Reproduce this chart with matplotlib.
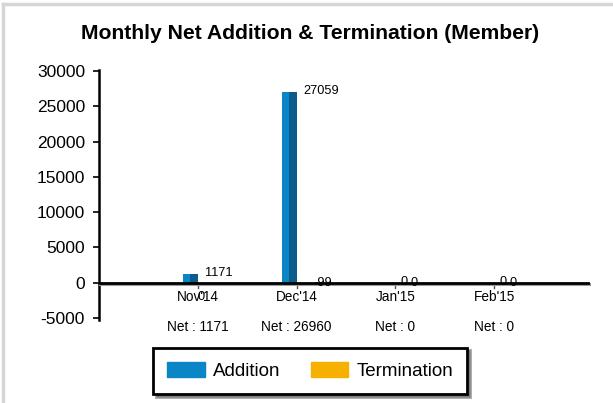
import matplotlib.pyplot as plt
import matplotlib.transforms as mtransforms
from matplotlib.patches import Rectangle
from matplotlib.lines import Line2D

plt.rcParams['font.family'] = ['Liberation Sans', 'DejaVu Sans']
plt.rcParams['axes.unicode_minus'] = False

months = ["Nov'14", "Dec'14", "Jan'15", "Feb'15"]
addition = [1171, 27059, 0, 0]
termination = [0, -99, 0, 0]
net = [1171, 26960, 0, 0]

add_light = '#0a86c6'
add_dark = '#0b5c8c'
term_color = '#f5b000'

fig = plt.figure(figsize=(6.13, 4.03), dpi=100)
# light gray frame on top and left
fig.add_artist(Line2D([0.005, 0.005], [0, 0.99], color='#d6d6d6', lw=2.5))
fig.add_artist(Line2D([0.005, 1], [0.99, 0.99], color='#d6d6d6', lw=2.5))

ax = fig.add_axes([0.1615, 0.206, 0.806, 0.6203])
ax.set_xlim(-1, 4)
ax.set_ylim(-5300, 30150)

w = 0.15
for i, v in enumerate(addition):
    # two-tone bar (light left half, dark right half)
    ax.bar(i - w * 0.75, v, width=w / 2, color=add_light, zorder=3)
    ax.bar(i - w * 0.25, v, width=w / 2, color=add_dark, zorder=3)
for i, v in enumerate(termination):
    ax.bar(i + w / 2, v, width=w, color=term_color, zorder=3)

# zero line with shadow
shadow = ax.transData + mtransforms.ScaledTranslation(1 / 100, -1.5 / 100, fig.dpi_scale_trans)
ax.plot([-1, 3.95], [0, 0], color='#9a9a9a', lw=2.2, zorder=3, transform=shadow)
ax.plot([-1, 3.95], [0, 0], color='black', lw=2, zorder=4)

for i, m in enumerate(months):
    ax.plot([i, i], [0, -800], color='#555555', lw=1, zorder=2)
    ax.annotate(m, (i, 0), xytext=(0, -14), textcoords='offset pixels',
                ha='center', va='center', fontsize=9.8)
    ax.annotate('Net : %d' % net[i], (i, 0), xytext=(0, -44),
                textcoords='offset pixels', ha='center', va='center',
                fontsize=9.8, annotation_clip=False)
    ax.annotate(str(addition[i]), (i, addition[i]), xytext=(7 if addition[i] else 5, 1),
                textcoords='offset pixels', ha='left', va='center', fontsize=9.2)
    if i == 0:
        ax.annotate(str(termination[i]), (i, 0), xytext=(3, -14),
                    textcoords='offset pixels', ha='center', va='center', fontsize=9.2)
    else:
        ax.annotate(str(termination[i]), (i, termination[i]),
                    xytext=(17 if termination[i] else 15, 0),
                    textcoords='offset pixels', ha='left', va='center', fontsize=9.2)

ax.set_yticks(range(-5000, 30001, 5000))
ax.tick_params(axis='y', labelsize=12.5, length=4, width=1.2, pad=6)
ax.set_xticks([])
for s in ['top', 'right', 'bottom']:
    ax.spines[s].set_visible(False)
ax.spines['left'].set_linewidth(1.8)

fig.text(0.505, 0.918, 'Monthly Net Addition & Termination (Member)',
         ha='center', va='center', fontsize=15.2, fontweight='bold')

handles = [Rectangle((0, 0), 1, 1, color=add_light),
           Rectangle((0, 0), 1, 1, color=term_color)]
leg = fig.legend(handles, ['Addition', 'Termination'], loc='center',
                 bbox_to_anchor=(0.506, 0.08), ncol=2, fontsize=13.5,
                 frameon=True, fancybox=False, shadow=True,
                 handlelength=2.0, handleheight=0.85, columnspacing=1.6,
                 borderpad=0.75, handletextpad=0.45, borderaxespad=0)
leg.get_frame().set_edgecolor('black')
leg.get_frame().set_linewidth(2)

fig.savefig('out.png', dpi=100)
